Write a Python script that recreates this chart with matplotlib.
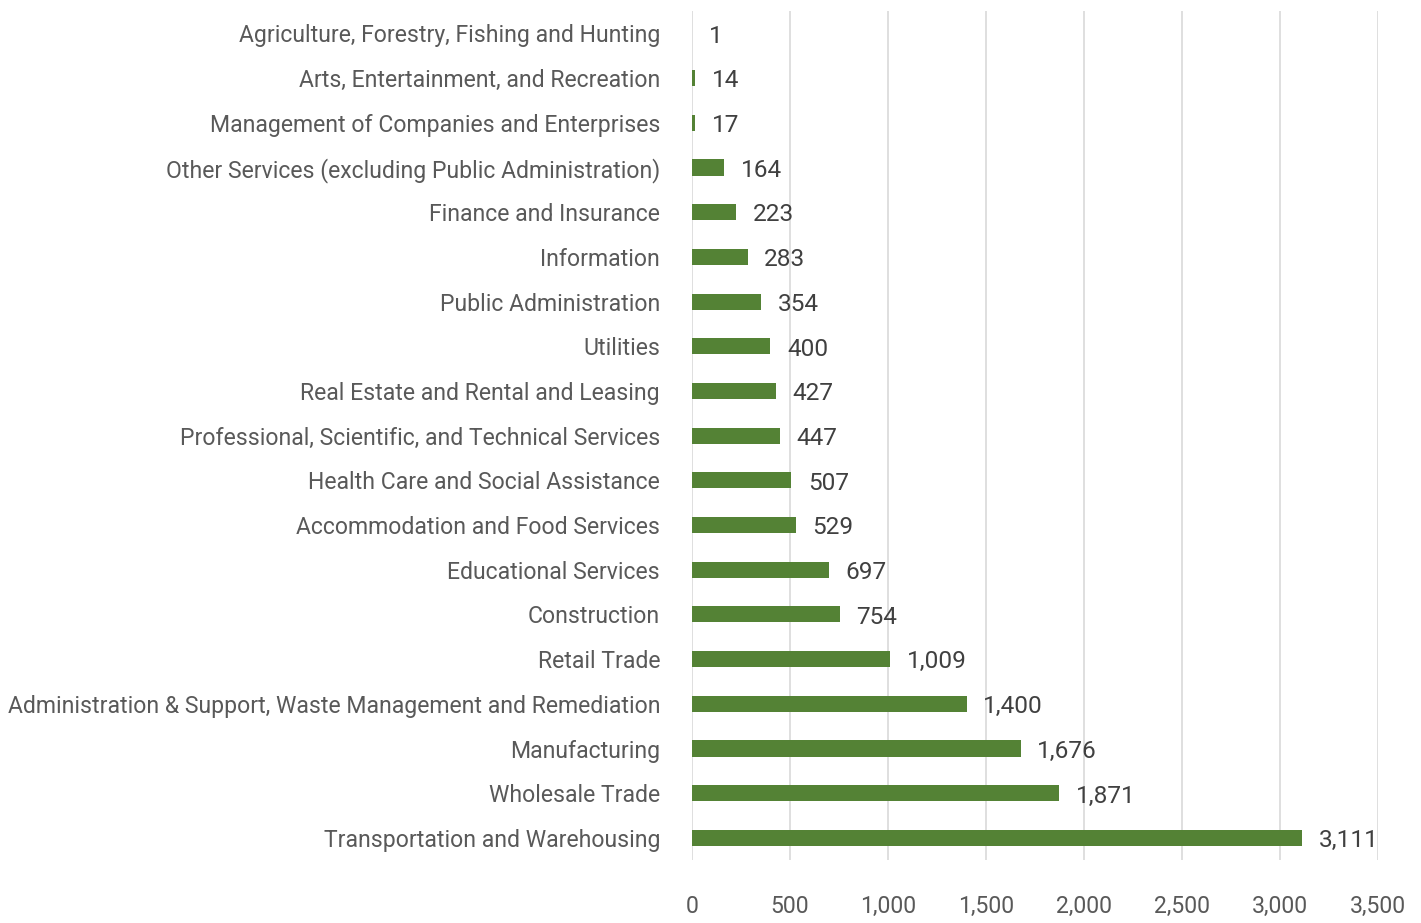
import matplotlib
matplotlib.use('Agg')
import matplotlib.pyplot as plt
from matplotlib import font_manager
from matplotlib.ticker import FuncFormatter

# Данні (зверху вниз, як на рисунку)
categories = [
    'Agriculture, Forestry, Fishing and Hunting',
    'Arts, Entertainment, and Recreation',
    'Management of Companies and Enterprises',
    'Other Services (excluding Public Administration)',
    'Finance and Insurance',
    'Information',
    'Public Administration',
    'Utilities',
    'Real Estate and Rental and Leasing',
    'Professional, Scientific, and Technical Services',
    'Health Care and Social Assistance',
    'Accommodation and Food Services',
    'Educational Services',
    'Construction',
    'Retail Trade',
    'Administration & Support, Waste Management and Remediation',
    'Manufacturing',
    'Wholesale Trade',
    'Transportation and Warehousing',
]
values = [1, 14, 17, 164, 223, 283, 354, 400, 427, 447, 507, 529, 697, 754,
          1009, 1400, 1676, 1871, 3111]
x_ticks = [0, 500, 1000, 1500, 2000, 2500, 3000, 3500]

# Шрифт: Roboto вужчий за DejaVu
fp = font_manager.FontProperties(family=['Roboto', 'DejaVu Sans'])

fig = plt.figure(figsize=(14.21, 9.23), dpi=100)
ax = fig.add_axes([0.487, 0.068, 0.483, 0.920])

# підбираємо розмір шрифту так, щоб найдовший підпис мав ~648 px
renderer = fig.canvas.get_renderer()
probe = fig.text(0, 0, max(categories, key=len), fontproperties=fp, fontsize=20)
w = probe.get_window_extent(renderer).width
probe.remove()
fs = min(20, 20 * 648 / w)

y = list(range(len(categories)))
ax.barh(y, values, height=0.36, color='#548235', zorder=3)

for yi, v in zip(y, values):
    ax.annotate(f'{v:,}', (v, yi), xytext=(12, -2), textcoords='offset points',
                va='center', ha='left', fontproperties=fp, fontsize=fs + 1,
                color='#404040')

ax.set_yticks(y)
ax.set_yticklabels(categories)
ax.set_ylim(len(categories) - 0.5, -0.5)

ax.set_xlim(0, 3500)
ax.set_xticks(x_ticks)
ax.xaxis.set_major_formatter(FuncFormatter(lambda v, p: f'{int(v):,}'))
ax.tick_params(axis='x', labelcolor='#595959', length=0, pad=25)
ax.tick_params(axis='y', labelcolor='#595959', length=0, pad=23)
for lab in ax.get_xticklabels() + ax.get_yticklabels():
    lab.set_fontproperties(fp)
    lab.set_fontsize(fs)

ax.grid(axis='x', color='#d9d9d9', linewidth=1.2, zorder=0)
for s in ax.spines.values():
    s.set_visible(False)

fig.savefig('out.png', dpi=100)
